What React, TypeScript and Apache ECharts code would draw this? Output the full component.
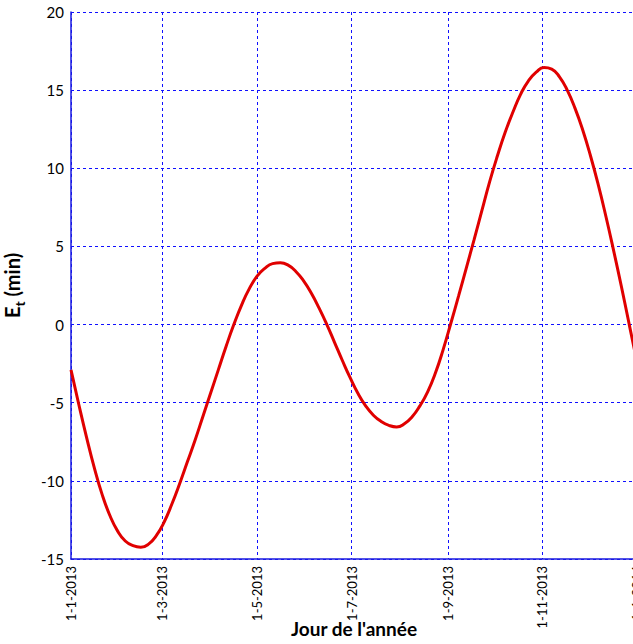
import React, { useEffect, useRef } from "react";
import * as echarts from "echarts";

// Tick labels on the x axis (day-of-year index -> label)
const tickDays = [0, 59, 120, 181, 243, 304, 365];
const tickLabels = ["1-1-2013", "1-3-2013", "1-5-2013", "1-7-2013", "1-9-2013", "1-11-2013", "1-1-2014"];

// Equation of time, every 5 days from 1 Jan 2013 (minutes)
const days = [0, 5, 10, 15, 20, 25, 30, 35, 40, 45, 50, 55, 60, 65, 70, 75, 80, 85, 90, 95, 100, 105, 110, 115, 120, 125, 130, 135, 140, 145, 150, 155, 160, 165, 170, 175, 180, 185, 190, 195, 200, 205, 210, 215, 220, 225, 230, 235, 240, 245, 250, 255, 260, 265, 270, 275, 280, 285, 290, 295, 300, 305, 310, 315, 320, 325, 330, 335, 340, 345, 350, 355, 360, 365];
const values = [-2.9, -5.1, -7.2, -9.15, -10.85, -12.2, -13.2, -13.85, -14.15, -14.25, -14.05, -13.5, -12.65, -11.5, -10.2, -8.8, -7.4, -5.9, -4.4, -2.9, -1.4, 0.0, 1.25, 2.3, 3.1, 3.6, 3.9, 3.95, 3.8, 3.4, 2.8, 2.0, 1.05, 0.0, -1.15, -2.3, -3.4, -4.4, -5.2, -5.8, -6.2, -6.45, -6.55, -6.35, -5.9, -5.2, -4.3, -3.1, -1.6, 0.1, 1.85, 3.65, 5.45, 7.3, 9.15, 10.8, 12.3, 13.6, 14.75, 15.6, 16.15, 16.45, 16.35, 15.85, 15.0, 13.85, 12.45, 10.8, 8.95, 6.9, 4.7, 2.4, 0.0, -2.4];

const categories = Array.from({ length: 366 }, (_, i) => String(i));

export default function App() {
  const ref = useRef<HTMLDivElement>(null);
  useEffect(() => {
    document.body.style.margin = "0";
    document.body.style.overflow = "hidden";
    const chart = echarts.init(ref.current!, undefined, { renderer: "svg" });
    const tickSet = new Set(tickDays);
    const labelMap: Record<string, string> = {};
    tickDays.forEach((d, i) => (labelMap[String(d)] = tickLabels[i]));
    chart.setOption({
      animation: false,
      backgroundColor: "#ffffff",
      grid: { left: 71, top: 12, width: 566, height: 547, containLabel: false, outerBoundsMode: "none" },
      xAxis: {
        type: "category",
        data: categories,
        boundaryGap: false,
        axisLine: { show: true, onZero: false, lineStyle: { color: "#1a1ae0", width: 1.5 } },
        axisTick: { show: false },
        splitLine: {
          show: true,
          interval: (i: number) => tickSet.has(i),
          lineStyle: { color: "#1010ff", width: 1, type: [3, 3] },
        },
        axisLabel: {
          interval: (i: number) => tickSet.has(i),
          formatter: (v: string) => labelMap[v] ?? "",
          rotate: 90,
          margin: 7,
          color: "#000",
          fontFamily: "Lato",
          fontSize: 13,
          hideOverlap: false,
        },
        name: "Jour de l'année",
        nameLocation: "middle",
        nameGap: 60,
        nameMoveOverlap: false,
        nameTextStyle: { color: "#000", fontFamily: "Lato", fontWeight: "bold", fontSize: 19 },
      },
      yAxis: {
        type: "value",
        min: -15,
        max: 20,
        interval: 5,
        axisLine: { show: true, lineStyle: { color: "#1a1ae0", width: 1.5 } },
        axisTick: { show: false },
        splitLine: { show: true, lineStyle: { color: "#1010ff", width: 1, type: [3, 3] } },
        axisLabel: { color: "#000", fontFamily: "Lato", fontSize: 15, margin: 7 },
        name: "{e|E}{t|t}{m| (min)}",
        nameLocation: "middle",
        nameGap: 45,
        nameMoveOverlap: false,
        nameTextStyle: {
          rich: {
            e: { color: "#000", fontFamily: "Lato", fontWeight: "bold", fontSize: 20, verticalAlign: "top", lineHeight: 24 },
            t: { color: "#000", fontFamily: "Lato", fontWeight: "bold", fontSize: 14, padding: [10, 0, 0, 0], lineHeight: 16 },
            m: { color: "#000", fontFamily: "Lato", fontWeight: "bold", fontSize: 20, verticalAlign: "top", lineHeight: 24 },
          },
        },
      },
      series: [
        {
          type: "line",
          data: days.map((d, i) => [d, values[i]]),
          smooth: true,
          symbol: "none",
          lineStyle: { color: "#e00000", width: 3 },
        },
      ],
    });
    return () => chart.dispose();
  }, []);
  return <div ref={ref} style={{ position: "fixed", left: 0, top: 0, width: 650, height: 644 }} />;
}
